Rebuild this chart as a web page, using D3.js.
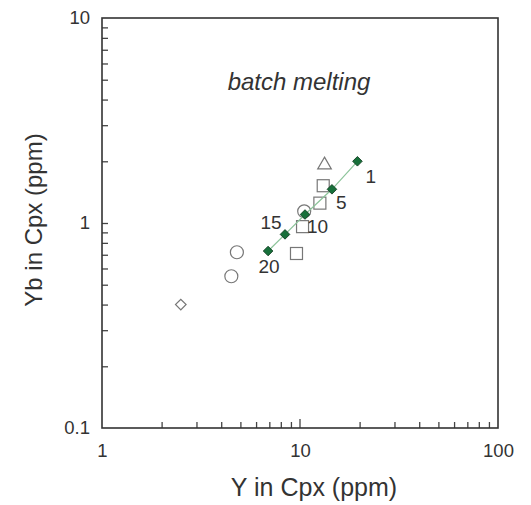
<!DOCTYPE html>
<html>
<head>
<meta charset="utf-8">
<script src="https://cdn.jsdelivr.net/npm/d3@7"></script>
<style>
  body { margin: 0; background: #fff; }
  svg text { font-family: "Liberation Sans", Arial, sans-serif; fill: #333; }
</style>
</head>
<body>
<div id="chart"></div>
<script>
// batch melting model (degree of melting %)
var modelF = [1, 5, 10, 15, 20];
var modelY = [19.5, 14.5, 10.6, 8.4, 6.9];
var modelYb = [2.0, 1.46, 1.10, 0.88, 0.73];

// observed samples
var squaresY = [13.1, 12.6, 10.3, 9.6];
var squaresYb = [1.52, 1.25, 0.96, 0.71];
var circlesY = [10.5, 4.8, 4.5];
var circlesYb = [1.14, 0.72, 0.55];
var triangleY = [13.3];
var triangleYb = [1.92];
var diamondY = [2.5];
var diamondYb = [0.40];

var xTicks = [1, 10, 100];
var yTicks = [0.1, 1, 10];

var width = 531, height = 505;
var margin = { left: 102, right: 33, top: 18, bottom: 77 };

var svg = d3.select("#chart").append("svg")
    .attr("width", width)
    .attr("height", height);

var x = d3.scaleLog().domain([1, 100]).range([margin.left, width - margin.right]);
var y = d3.scaleLog().domain([0.1, 10]).range([height - margin.bottom, margin.top]);

// minor ticks for each decade
function minorTicks(lo, hi) {
    var out = [];
    for (var d = lo; d < hi; d *= 10) {
        for (var k = 2; k <= 9; k++) out.push(d * k);
    }
    return out;
}

var xAxis = d3.axisBottom(x).tickValues(minorTicks(1, 100)).tickSize(-6).tickFormat("");
var xMajor = d3.axisBottom(x).tickValues(xTicks).tickSize(0).tickPadding(16).tickFormat(d3.format("~g"));
var yAxis = d3.axisLeft(y).tickValues(minorTicks(0.1, 10).concat([1])).tickSize(-6).tickFormat("");
var yMajor = d3.axisLeft(y).tickValues(yTicks).tickSize(0).tickPadding(12).tickFormat(d3.format("~g"));

var gx = svg.append("g").attr("transform", "translate(0," + (height - margin.bottom) + ")");
gx.call(xAxis);
gx.append("g").call(xMajor);
var gy = svg.append("g").attr("transform", "translate(" + margin.left + ",0)");
gy.call(yAxis);
gy.append("g").call(yMajor);

svg.selectAll(".domain").remove();
svg.selectAll(".tick line").attr("stroke", "#444").attr("stroke-width", 1.3);
svg.selectAll(".tick text").style("font-size", "18.5px").attr("fill", "#333");

// longer tick at 10 on x
gx.append("line")
    .attr("x1", x(10)).attr("x2", x(10))
    .attr("y1", 0).attr("y2", -9)
    .attr("stroke", "#444").attr("stroke-width", 1.3);

// frame
svg.append("rect")
    .attr("x", margin.left)
    .attr("y", margin.top)
    .attr("width", width - margin.left - margin.right)
    .attr("height", height - margin.top - margin.bottom)
    .attr("fill", "none")
    .attr("stroke", "#333")
    .attr("stroke-width", 1.6);

// axis titles
svg.append("text")
    .attr("x", 314)
    .attr("y", 496)
    .attr("text-anchor", "middle")
    .style("font-size", "25px")
    .text("Y in Cpx (ppm)");

svg.append("text")
    .attr("transform", "translate(42,220) rotate(-90)")
    .attr("text-anchor", "middle")
    .style("font-size", "24px")
    .text("Yb in Cpx (ppm)");

svg.append("text")
    .attr("x", 299)
    .attr("y", 90)
    .attr("text-anchor", "middle")
    .style("font-size", "24px")
    .style("font-style", "italic")
    .text("batch melting");

var grey = "#777";

// squares
svg.selectAll(".sq").data(squaresY).enter().append("rect")
    .attr("x", function (d) { return x(d) - 6; })
    .attr("y", function (d, i) { return y(squaresYb[i]) - 6; })
    .attr("width", 12).attr("height", 12)
    .attr("fill", "none").attr("stroke", grey).attr("stroke-width", 1.2);

// circles
svg.selectAll(".ci").data(circlesY).enter().append("circle")
    .attr("cx", function (d) { return x(d); })
    .attr("cy", function (d, i) { return y(circlesYb[i]); })
    .attr("r", 6.5)
    .attr("fill", "none").attr("stroke", grey).attr("stroke-width", 1.2);

// triangle
svg.selectAll(".tr").data(triangleY).enter().append("path")
    .attr("transform", function (d, i) { return "translate(" + x(d) + "," + y(triangleYb[i]) + ")"; })
    .attr("d", d3.symbol().type(d3.symbolTriangle).size(80))
    .attr("fill", "none").attr("stroke", grey).attr("stroke-width", 1.2);

// open diamond
svg.selectAll(".di").data(diamondY).enter().append("path")
    .attr("transform", function (d, i) { return "translate(" + x(d) + "," + y(diamondYb[i]) + ") rotate(45)"; })
    .attr("d", d3.symbol().type(d3.symbolSquare).size(56))
    .attr("fill", "none").attr("stroke", grey).attr("stroke-width", 1.2);

// model line
var line = d3.line()
    .x(function (d, i) { return x(modelY[i]); })
    .y(function (d, i) { return y(modelYb[i]); });
svg.append("path")
    .datum(modelF)
    .attr("d", line)
    .attr("fill", "none")
    .attr("stroke", "#8cc49a")
    .attr("stroke-width", 1.2);

svg.selectAll(".md").data(modelF).enter().append("path")
    .attr("transform", function (d, i) { return "translate(" + x(modelY[i]) + "," + y(modelYb[i]) + ") rotate(45)"; })
    .attr("d", d3.symbol().type(d3.symbolSquare).size(46))
    .attr("fill", "#17703a").attr("stroke", "#0c3a1c").attr("stroke-width", 0.8);

// labels for melting degree
var labelDx = [8, 4, 2, -14, 1];
var labelDy = [22, 20, 18, -5, 22];
svg.selectAll(".ml").data(modelF).enter().append("text")
    .attr("x", function (d, i) { return x(modelY[i]) + labelDx[i]; })
    .attr("y", function (d, i) { return y(modelYb[i]) + labelDy[i]; })
    .attr("text-anchor", function (d, i) { return i >= 3 ? "middle" : "start"; })
    .style("font-size", "19px")
    .text(function (d) { return d; });
</script>
</body>
</html>
